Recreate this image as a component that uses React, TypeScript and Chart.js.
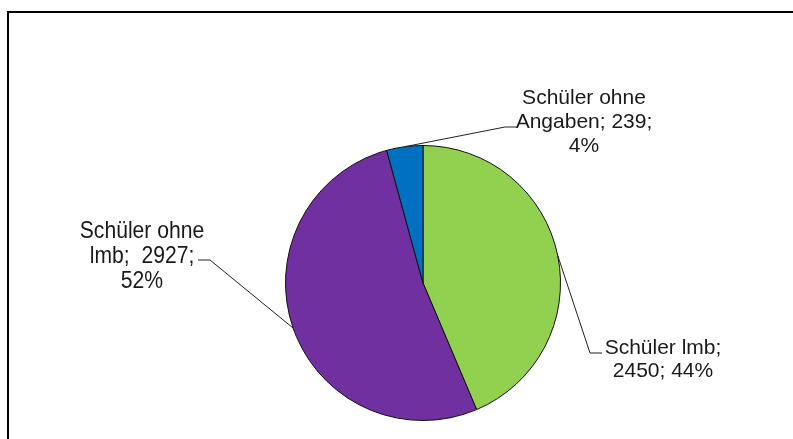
import React, { useEffect, useRef } from "react";
import { Chart, registerables } from "chart.js";

Chart.register(...registerables);

const categories = ["Schüler lmb", "Schüler ohne lmb", "Schüler ohne Angaben"];
const values = [2450, 2927, 239];
const colors = ["#92D050", "#7030A0", "#0070C0"];

// label layout: words per line, text anchor, leader elbow/end
const labelLayout = [
  { wrap: [2, 2], cx: 663, cy: 348, lh: 23, fs: 21, sx: 1, elbow: [590, 353], end: [602, 353] },
  { wrap: [2, 2, 1], cx: 142, cy: 231, lh: 25, fs: 24, sx: 0.88, elbow: [210, 260], end: [198, 260] },
  { wrap: [2, 2, 1], cx: 584, cy: 98, lh: 24, fs: 21, sx: 1, elbow: [505, 127], end: [516, 127] },
];

function labelLines(i: number, total: number): string[] {
  const pct = Math.round((values[i] / total) * 100);
  const words = `${categories[i]}; ${values[i]}; ${pct}%`.split(" ");
  const out: string[] = [];
  let k = 0;
  for (const n of labelLayout[i].wrap) {
    out.push(words.slice(k, k + n).join(i === 1 && k === 2 ? "  " : " "));
    k += n;
  }
  return out;
}

const framePlugin = {
  id: "frame",
  beforeDraw(chart: any) {
    const ctx = chart.ctx;
    ctx.save();
    ctx.fillStyle = "#fff";
    ctx.fillRect(0, 0, chart.width, chart.height);
    ctx.fillStyle = "#000";
    ctx.fillRect(7, 11, 2, chart.height - 11);
    ctx.fillRect(7, 11, chart.width - 7, 2);
    ctx.restore();
  },
};

const labelPlugin = {
  id: "pieLabels",
  afterDraw(chart: any) {
    const ctx = chart.ctx;
    const meta = chart.getDatasetMeta(0);
    const total = values.reduce((a, b) => a + b, 0);
    ctx.save();
    meta.data.forEach((arc: any, i: number) => {
      const p = arc.getProps(["x", "y", "startAngle", "endAngle", "outerRadius"], true);
      const mid = (p.startAngle + p.endAngle) / 2;
      const sx0 = p.x + Math.cos(mid) * p.outerRadius;
      const sy0 = p.y + Math.sin(mid) * p.outerRadius;
      const L = labelLayout[i];
      ctx.strokeStyle = "#222";
      ctx.lineWidth = 1;
      ctx.beginPath();
      ctx.moveTo(sx0, sy0);
      ctx.lineTo(L.elbow[0], L.elbow[1]);
      ctx.lineTo(L.end[0], L.end[1]);
      ctx.stroke();
      ctx.fillStyle = "#1a1a1a";
      ctx.font = `${L.fs}px "Liberation Sans", Arial, sans-serif`;
      ctx.textAlign = "center";
      ctx.textBaseline = "middle";
      labelLines(i, total).forEach((t, j) => {
        ctx.save();
        ctx.translate(L.cx, L.cy + j * L.lh);
        ctx.scale(L.sx, 1);
        ctx.fillText(t, 0, 0);
        ctx.restore();
      });
    });
    ctx.restore();
  },
};

export default function App() {
  const ref = useRef<HTMLCanvasElement | null>(null);
  useEffect(() => {
    document.body.style.margin = "0";
    const chart = new Chart(ref.current as HTMLCanvasElement, {
      type: "pie",
      data: {
        labels: categories,
        datasets: [
          {
            data: values,
            backgroundColor: colors,
            borderColor: "#111",
            borderWidth: 1,
          },
        ],
      },
      options: {
        animation: false,
        responsive: false,
        layout: { padding: { left: 285, right: 232, top: 145, bottom: 18 } },
        plugins: { legend: { display: false }, tooltip: { enabled: false } },
      },
      plugins: [framePlugin, labelPlugin],
    });
    return () => chart.destroy();
  }, []);
  return (
    <div style={{ position: "absolute", left: 0, top: 0, width: 793, height: 439 }}>
      <canvas ref={ref} width={793} height={439} style={{ width: 793, height: 439 }} />
    </div>
  );
}
